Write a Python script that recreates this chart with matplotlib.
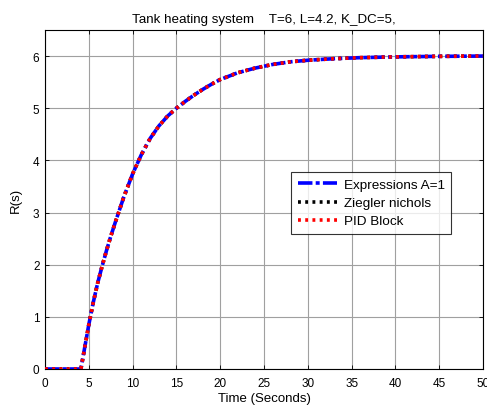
import matplotlib
matplotlib.use("Agg")
import matplotlib.pyplot as plt

plt.rcParams['font.family'] = ['Liberation Sans', 'DejaVu Sans']

time_s = [0, 2, 4.1, 4.5, 5, 5.5, 6, 6.5, 7, 7.5, 8, 9, 10, 11, 12, 13, 14,
          15, 16, 17, 18, 19, 20, 22, 24, 26, 28, 30, 33, 36, 40, 45, 50]
expr_A1 = [0, 0, 0, 0.38, 0.85, 1.27, 1.64, 1.96, 2.26, 2.54, 2.80, 3.30,
           3.74, 4.11, 4.42, 4.66, 4.85, 5.00, 5.13, 5.25, 5.36, 5.46, 5.55,
           5.68, 5.77, 5.84, 5.89, 5.92, 5.95, 5.97, 5.985, 5.995, 6.0]
ziegler = list(expr_A1)
pid_block = list(expr_A1)

title = "Tank heating system    T=6, L=4.2, K_DC=5,"
xticks = [0, 5, 10, 15, 20, 25, 30, 35, 40, 45, 50]
yticks = [0, 1, 2, 3, 4, 5, 6]

W, H = 487, 406
fig = plt.figure(figsize=(W / 100, H / 100), dpi=100)
ax = fig.add_axes([45 / W, 1 - 370 / H, (483 - 45) / W, (370 - 31) / H])

ax.plot(time_s, expr_A1, color='#0000ff', lw=2.6, ls=(0, (4, 0.9, 1.1, 0.9)),
        label='Expressions A=1', zorder=3)
ax.plot(time_s, ziegler, color='black', lw=2.6, ls=(0, (0.8, 1.2)),
        label='Ziegler nichols', zorder=2)
ax.plot(time_s, pid_block, color='#ff0000', lw=2.6, ls=(0, (0.8, 1.2)),
        label='PID Block', zorder=4)

ax.set_xlim(0, 50)
ax.set_ylim(0, 6.5)
ax.set_xticks(xticks)
ax.set_yticks(yticks)
ax.tick_params(direction='in', top=True, right=True, labelsize=8.5, length=3,
               width=0.6)
ax.tick_params(axis='x', pad=6)
ax.tick_params(axis='y', pad=4)
ax.grid(True, color='#a0a0a0', lw=0.8)
for s in ax.spines.values():
    s.set_linewidth(0.8)

ax.set_title(title, fontsize=9.6, pad=6)
ax.set_xlabel("Time (Seconds)", fontsize=9.5, labelpad=2)
ax.set_ylabel("R(s)", fontsize=9.5, labelpad=8)

leg = ax.legend(loc='upper left', bbox_to_anchor=(246 / 438, 197 / 339),
                fontsize=9.7, frameon=True, fancybox=False, edgecolor='black',
                borderaxespad=0, handlelength=2.9, handletextpad=0.5,
                labelspacing=0.42, borderpad=0.5)
leg.get_frame().set_linewidth(0.8)

fig.savefig("out.png", dpi=100)
